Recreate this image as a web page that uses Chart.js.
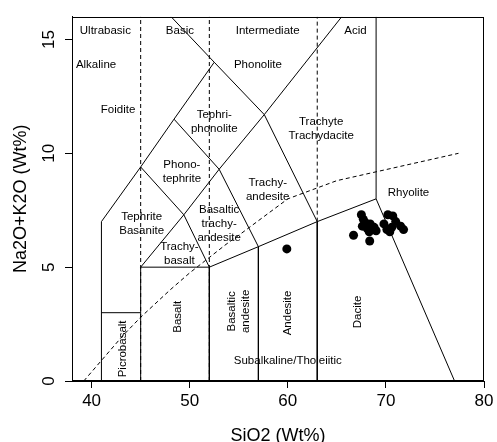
<!DOCTYPE html>
<html>
<head>
<meta charset="utf-8">
<script src="https://cdn.jsdelivr.net/npm/chart.js@4"></script>
<style>html,body{margin:0;padding:0;background:#fff}canvas{display:block}</style>
</head>
<body>
<canvas id="c" width="497" height="442"></canvas>
<script>
// ---- data ----
const xTicks = [40, 50, 60, 70, 80];
const yTicks = [0, 5, 10, 15];

const sampleSiO2   = [59.9, 66.7, 68.35, 67.5, 67.7, 67.9, 67.6, 68.1, 68.4, 68.8, 69.0, 68.3, 69.8, 70.2, 70.7, 70.1, 70.6, 71.0, 71.5, 71.8, 70.4];
const sampleAlkali = [5.8,  6.4,  6.15,  7.3,  7.1,  6.95, 6.8,  6.7,  6.9,  6.75, 6.6,  6.55, 6.9,  7.3,  7.25, 6.65, 6.75, 7.0,  6.8,  6.65, 6.55];

// TAS field boundaries [SiO2, Na2O+K2O]
const solidBoundaries = [
  [[41,0],[41,7],[45,9.4],[48.4,11.5],[52.5,14]],
  [[48.1,16],[52.5,14],[57.6,11.7],[63,7],[63,0]],
  [[41,3],[45,3]],
  [[45,0],[45,5],[52,5],[52,0]],
  [[45,5],[49.4,7.3],[52,5]],
  [[45,9.4],[49.4,7.3],[53,9.3],[57.6,11.7],[65.5,16]],
  [[48.4,11.5],[53,9.3],[57,5.9],[57,0]],
  [[52,5],[57,5.9],[63,7],[69,8],[69,16]],
  [[69,8],[77,0]]
];
const dashedBoundaries = [
  [[45,0],[45,16]],
  [[52,0],[52,16]],
  [[63,7],[63,16]],
  [[39.2,0],[40,0.4],[43.2,2],[45,2.8],[48,4],[50,4.75],[53.7,6],[55,6.4],[60,8],[65,8.8],[77.4,10]]
];

const regionNames = [
  ['Ultrabasic'], ['Basic'], ['Intermediate'], ['Acid'], ['Alkaline'], ['Foidite'],
  ['Phonolite'], ['Tephri-','phonolite'], ['Phono-','tephrite'], ['Tephrite','Basanite'],
  ['Trachy-','basalt'], ['Basaltic','trachy-','andesite'], ['Trachy-','andesite'],
  ['Trachyte','Trachydacite'], ['Rhyolite'], ['Picrobasalt'], ['Basalt'],
  ['Basaltic','andesite'], ['Andesite'], ['Dacite'], ['Subalkaline/Tholeiitic']
];
const regionSiO2   = [41.4, 49.0, 57.95, 66.9, 40.45, 42.7, 56.95, 52.5, 49.2, 45.1, 48.95, 53.0, 57.95, 63.4, 72.3, 43.2, 48.8, 55.05, 60.05, 67.15, 60.0];
const regionAlkali = [15.4, 15.4, 15.4,  15.4, 13.87, 11.9, 13.87, 11.4, 9.18, 6.9,  5.57,  6.9,  8.39,  11.08, 8.26, 1.41, 2.82, 3.06,  2.99,  3.03,  0.9];
const regionRotated = [false,false,false,false,false,false,false,false,false,false,false,false,false,false,false,true,true,true,true,true,false];

// ---- chart ----
const FONT = '"Liberation Sans", Arial, Helvetica, sans-serif';
const toPts = arr => arr.map(p => ({x: p[0], y: p[1]}));

const datasets = [{
  label: 'Samples',
  data: sampleSiO2.map((v, i) => ({x: v, y: sampleAlkali[i]})),
  pointRadius: 4.5,
  pointBackgroundColor: '#000',
  pointBorderWidth: 0,
  showLine: false
}];
solidBoundaries.forEach(l => datasets.push({
  data: toPts(l), showLine: true, borderColor: '#000', borderWidth: 1,
  pointRadius: 0, fill: false, tension: 0
}));
dashedBoundaries.forEach(l => datasets.push({
  data: toPts(l), showLine: true, borderColor: '#000', borderWidth: 1,
  borderDash: [4, 3], pointRadius: 0, fill: false, tension: 0
}));

const framePlugin = {
  id: 'frame',
  afterDatasetsDraw(chart) {
    const {ctx, chartArea: a} = chart;
    ctx.save();
    ctx.strokeStyle = '#000';
    ctx.lineWidth = 1;
    ctx.strokeRect(Math.round(a.left) + 0.5, Math.round(a.top) + 0.5,
                   Math.round(a.right - a.left) - 1, Math.round(a.bottom - a.top) - 1);
    ctx.restore();
  }
};

const labelPlugin = {
  id: 'regionLabels',
  afterDatasetsDraw(chart) {
    const {ctx, scales: {x, y}} = chart;
    ctx.save();
    ctx.fillStyle = '#000';
    ctx.font = '11.5px ' + FONT;
    ctx.textAlign = 'center';
    ctx.textBaseline = 'middle';
    const LH = 14;
    regionNames.forEach((lines, i) => {
      const px = x.getPixelForValue(regionSiO2[i]);
      const py = y.getPixelForValue(regionAlkali[i]);
      ctx.save();
      ctx.translate(px, py);
      if (regionRotated[i]) ctx.rotate(-Math.PI / 2);
      const n = lines.length;
      lines.forEach((t, k) => ctx.fillText(t, 0, (k - (n - 1) / 2) * LH));
      ctx.restore();
    });
    ctx.restore();
  }
};

new Chart(document.getElementById('c'), {
  type: 'scatter',
  data: {datasets},
  options: {
    responsive: false,
    animation: false,
    layout: {padding: {top: 9, right: 13, left: 0, bottom: 0}},
    plugins: {legend: {display: false}, tooltip: {enabled: false}},
    scales: {
      x: {
        type: 'linear', position: 'bottom', min: 38, max: 80,
        afterBuildTicks: s => { s.ticks = xTicks.map(v => ({value: v})); },
        afterFit: s => { s.height = 61; },
        grid: {display: true, drawOnChartArea: false, drawTicks: true, tickLength: 7, color: '#000', tickColor: '#000', tickWidth: 1},
        border: {display: true, color: '#000', width: 1},
        ticks: {color: '#000', font: {family: FONT, size: 17}, padding: 3.5, maxRotation: 0, minRotation: 0},
        title: {display: true, text: 'SiO2 (Wt%)', color: '#000', font: {family: FONT, size: 18}, padding: {top: 0, bottom: -5.3}}
      },
      y: {
        type: 'linear', position: 'left', min: 0, max: 16,
        afterBuildTicks: s => { s.ticks = yTicks.map(v => ({value: v})); },
        afterFit: s => { s.width = 72; },
        grid: {display: true, drawOnChartArea: false, drawTicks: true, tickLength: 7, color: '#000', tickColor: '#000', tickWidth: 1},
        border: {display: true, color: '#000', width: 1},
        ticks: {color: '#000', font: {family: FONT, size: 17}, padding: 6.5, minRotation: 90, maxRotation: 90, crossAlign: 'center'},
        title: {display: true, text: 'Na2O+K2O (Wt%)', color: '#000', font: {family: FONT, size: 18}, padding: {top: 10.7, bottom: 0}}
      }
    }
  },
  plugins: [framePlugin, labelPlugin]
});
</script>
</body>
</html>
